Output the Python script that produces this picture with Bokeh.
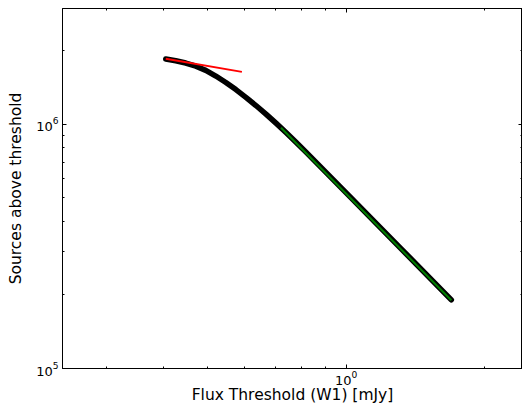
from bokeh.plotting import figure
from bokeh.models import Range1d, FixedTicker, LogTickFormatter, LogAxis, CustomJSTickFormatter
from bokeh.embed import file_html
from bokeh.resources import INLINE

# Cumulative source counts above flux threshold
flux = [0.4046, 0.4254, 0.4473, 0.4705, 0.4946, 0.5201, 0.5470, 0.5752,
        0.6048, 0.6361, 0.6689, 0.7034, 0.7396, 0.7778, 0.8178, 1.0255,
        1.3185, 1.6954]
counts = [1.850e6, 1.8214e6, 1.7822e6, 1.7291e6, 1.6627e6, 1.5761e6,
          1.4836e6, 1.3872e6, 1.2898e6, 1.1938e6, 1.1009e6, 1.0113e6,
          9.256e5, 8.448e5, 7.694e5, 4.994e5, 3.090e5, 1.9112e5]

# Power-law fit at the bright end (green) and faint-end slope (red)
fit_flux = [0.7212, 1.6954]
fit_counts = [9.679e5, 1.902e5]
faint_flux = [0.4046, 0.5928]
faint_counts = [1.855e6, 1.6396e6]

x_major = [1.0]
x_minor = [0.3, 0.4, 0.5, 0.6, 0.7, 0.8, 0.9, 2.0]
y_major = [1e5, 1e6]
y_minor = [2e5, 3e5, 4e5, 5e5, 6e5, 7e5, 8e5, 9e5, 2e6]

FONT = "DejaVu Sans"

p = figure(width=522, height=406, x_axis_type="log", y_axis_type="log",
           x_range=Range1d(0.241, 2.423), y_range=Range1d(1e5, 2.98e6),
           output_backend="svg", toolbar_location=None,
           min_border_left=62, min_border_right=0, min_border_top=8,
           min_border_bottom=35)
p.background_fill_color = "white"
p.border_fill_color = "white"
p.outline_line_color = "black"
p.outline_line_width = 1
p.xgrid.visible = False
p.ygrid.visible = False

p.line(flux, counts, line_color="black", line_width=5.5, line_cap="round",
       line_join="round")
p.line(faint_flux, faint_counts, line_color="#ff0000", line_width=2)
p.line(fit_flux, fit_counts, line_color="#008000", line_width=2)

xt = FixedTicker(ticks=x_major, minor_ticks=x_minor)
yt = FixedTicker(ticks=y_major, minor_ticks=y_minor)


def style(ax, labels=True):
    ax.axis_line_color = "black"
    ax.major_tick_in = 4
    ax.major_tick_out = 0
    ax.minor_tick_in = 2
    ax.minor_tick_out = 0
    ax.major_tick_line_color = "black"
    ax.minor_tick_line_color = "black"
    if labels:
        ax.major_label_text_font = FONT
        ax.major_label_text_font_size = "13px"
        ax.major_label_text_color = "black"
        ax.axis_label_text_font = FONT
        ax.axis_label_text_font_size = "15.5px"
        ax.axis_label_text_font_style = "normal"
        ax.axis_label_text_color = "black"
    else:
        ax.formatter = CustomJSTickFormatter(code="return ''")
        ax.major_label_text_font_size = "1px"
        ax.major_label_standoff = 0


xa = p.xaxis[0]
xa.ticker = xt
xa.formatter = LogTickFormatter()
xa.axis_label = "Flux Threshold (W1) [mJy]"
style(xa)
xa.major_label_standoff = 2
xa.axis_label_standoff = -2

ya = p.yaxis[0]
ya.ticker = yt
ya.formatter = LogTickFormatter()
ya.axis_label = "Sources above threshold"
style(ya)
ya.major_label_standoff = 4
ya.axis_label_standoff = 8

top = LogAxis(ticker=FixedTicker(ticks=x_major, minor_ticks=x_minor))
style(top, labels=False)
p.add_layout(top, "above")

right = LogAxis(ticker=FixedTicker(ticks=y_major, minor_ticks=y_minor))
style(right, labels=False)
p.add_layout(right, "right")

open("out.html", "w").write(file_html(p, INLINE))
